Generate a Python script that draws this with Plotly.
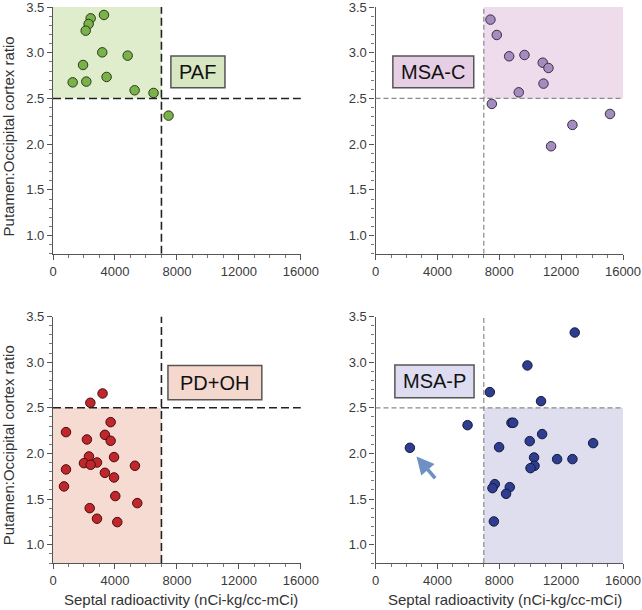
import plotly.graph_objects as go

# ---------------- data ----------------
X_RANGE = [0, 16000]
Y_RANGE = [0.8, 3.5]
X_CUT = 7000
Y_CUT = 2.5
x_tickvals = [0, 4000, 8000, 12000, 16000]
x_ticktext = ["0", "4000", "8000", "12000", "16000"]
y_tickvals = [1.0, 1.5, 2.0, 2.5, 3.0, 3.5]
y_ticktext = ["1.0", "1.5", "2.0", "2.5", "3.0", "3.5"]

paf_x = [2430, 3290, 2300, 2110, 3180, 4820, 1940, 3460, 1270, 2150, 5270, 6490, 7460]
paf_y = [3.376, 3.413, 3.314, 3.241, 3.004, 2.968, 2.866, 2.735, 2.676, 2.684, 2.589, 2.560, 2.312]

msac_x = [7430, 7840, 8640, 9630, 10810, 11180, 10860, 9260, 7520, 15160, 12730, 11350]
msac_y = [3.362, 3.194, 2.961, 2.975, 2.891, 2.833, 2.662, 2.567, 2.440, 2.330, 2.210, 1.977]

pdoh_x = [3200, 2410, 3720, 840, 3350, 2190, 3720, 2320, 3940, 2000, 2840, 2430, 5290,
          840, 3350, 3940, 710, 4020, 5440, 2370, 2840, 4150]
pdoh_y = [2.657, 2.555, 2.343, 2.234, 2.204, 2.153, 2.139, 1.967, 1.960, 1.894, 1.901, 1.876,
          1.865, 1.825, 1.788, 1.737, 1.639, 1.533, 1.456, 1.401, 1.285, 1.248]

msap_x = [12880, 9820, 7390, 10700, 5950, 8790, 8900, 10770, 14070, 7990, 9970, 2220,
          10250, 11740, 12730, 10280, 10020, 7710, 7560, 8680, 8440, 7650]
msap_y = [3.325, 2.964, 2.672, 2.573, 2.310, 2.336, 2.336, 2.212, 2.113, 2.069, 2.135, 2.062,
          1.956, 1.938, 1.938, 1.865, 1.839, 1.664, 1.620, 1.631, 1.558, 1.255]

labels = ["PAF", "MSA-C", "PD+OH", "MSA-P"]
# label box extents (data units)
box_x0 = [7610, 1120, 7420, 1250]
box_x1 = [11100, 6350, 13480, 6370]
box_y0 = [2.616, 2.616, 2.589, 2.61]
box_y1 = [2.965, 2.965, 2.964, 2.97]

# highlighted region per panel
region_x = [[0, X_CUT], [X_CUT, 16000], [0, X_CUT], [X_CUT, 16000]]
region_y = [[Y_CUT, 3.5], [Y_CUT, 3.5], [0.8, Y_CUT], [0.8, Y_CUT]]

# arrow in MSA-P panel (tail -> head)
arrow_tail = (3940, 1.712)
arrow_head = (2650, 1.967)

x_title = "Septal radioactivity (nCi-kg/cc-mCi)"
y_title = "Putamen:Occipital cortex ratio"

# ---------------- styles ----------------
marker_fill = ["#7ab24a", "#a38cbe", "#c0272d", "#2f3d8f"]
marker_edge = ["#2b3a1a", "#3a2e45", "#4a0c0c", "#141a40"]
region_fill = ["#dfedcd", "#eedcec", "#f5dbd1", "#dfdeee"]
box_fill = ["#d6e7c1", "#e6cfe4", "#f4d8cd", "#dddcf0"]
dash_color = ["#222222", "#8a8a8a", "#222222", "#8a8a8a"]
dash_style = ["8px,4px", "5px,3px", "8px,4px", "5px,3px"]
dash_width = [1.6, 1.2, 1.6, 1.2]

W, H = 642, 610
ML, MR, MT, MB = 53, 18.7, 7, 46.7
PW, PH = W - ML - MR, H - MT - MB


def px_x(p):
    return (p - ML) / PW


def px_y(q):
    return (H - MB - q) / PH


xdom = [[px_x(53), px_x(301)], [px_x(375.7), px_x(623.3)]]
ydom_top = [px_y(254), px_y(7)]
ydom_bot = [px_y(563.3), px_y(316.7)]
doms = [(xdom[0], ydom_top), (xdom[1], ydom_top), (xdom[0], ydom_bot), (xdom[1], ydom_bot)]

datasets = [(paf_x, paf_y), (msac_x, msac_y), (pdoh_x, pdoh_y), (msap_x, msap_y)]

fig = go.Figure()
layout = dict(
    width=W, height=H,
    margin=dict(l=ML, r=MR, t=MT, b=MB, autoexpand=False),
    paper_bgcolor="white", plot_bgcolor="rgba(0,0,0,0)",
    showlegend=False,
    font=dict(family="Liberation Sans, Arial, sans-serif", color="#333333", size=13),
)
shapes = []
annotations = []

for i, (xs, ys) in enumerate(datasets):
    n = "" if i == 0 else str(i + 1)
    xa, ya = "x" + n, "y" + n
    fig.add_trace(go.Scatter(
        x=xs, y=ys, mode="markers", xaxis=xa, yaxis=ya,
        marker=dict(size=9.5, color=marker_fill[i], line=dict(color=marker_edge[i], width=1)),
        hoverinfo="x+y",
    ))
    layout["xaxis" + n] = dict(
        domain=doms[i][0], anchor=ya, range=X_RANGE, tickvals=x_tickvals, ticktext=x_ticktext,
        showgrid=False, zeroline=False, showline=True, linecolor="#555555", linewidth=1.2,
        ticks="outside", ticklen=5, tickcolor="#555555", tickfont=dict(size=13, color="#3a3a3a"),
        minor=dict(dtick=1000, ticks="outside", ticklen=3, tickcolor="#777777", showgrid=False),
        fixedrange=True, automargin=False, ticklabeloverflow="allow",
    )
    layout["yaxis" + n] = dict(
        domain=doms[i][1], anchor=xa, range=Y_RANGE, tickvals=y_tickvals, ticktext=y_ticktext,
        showgrid=False, zeroline=False, showline=True, linecolor="#555555", linewidth=1.2,
        ticks="outside", ticklen=5, tickcolor="#555555", tickfont=dict(size=13, color="#3a3a3a"),
        minor=dict(dtick=0.1, tick0=0.8, ticks="outside", ticklen=3, tickcolor="#777777", showgrid=False),
        fixedrange=True, automargin=False, ticklabeloverflow="allow",
    )
    # shaded region
    shapes.append(dict(type="rect", xref=xa, yref=ya, layer="below",
                       x0=region_x[i][0], x1=region_x[i][1], y0=region_y[i][0], y1=region_y[i][1],
                       fillcolor=region_fill[i], line=dict(width=0)))
    # threshold lines
    shapes.append(dict(type="line", xref=xa, yref=ya, x0=X_CUT, x1=X_CUT, y0=Y_RANGE[0], y1=Y_RANGE[1],
                       line=dict(color=dash_color[i], width=dash_width[i], dash=dash_style[i])))
    shapes.append(dict(type="line", xref=xa, yref=ya, x0=X_RANGE[0], x1=X_RANGE[1], y0=Y_CUT, y1=Y_CUT,
                       line=dict(color=dash_color[i], width=dash_width[i], dash=dash_style[i])))
    # label box
    shapes.append(dict(type="rect", xref=xa, yref=ya, x0=box_x0[i], x1=box_x1[i], y0=box_y0[i], y1=box_y1[i],
                       fillcolor=box_fill[i], line=dict(color="#555555", width=1.5)))
    annotations.append(dict(xref=xa, yref=ya, x=(box_x0[i] + box_x1[i]) / 2,
                            y=(box_y0[i] + box_y1[i]) / 2, text=labels[i], showarrow=False,
                            font=dict(size=20, color="#111111",
                                      family="Liberation Sans, Arial, sans-serif")))

# arrow pointing to outlier in MSA-P
annotations.append(dict(xref="x4", yref="y4", axref="x4", ayref="y4",
                        x=arrow_head[0], y=arrow_head[1], ax=arrow_tail[0], ay=arrow_tail[1],
                        text="", showarrow=True, arrowhead=2, arrowsize=1, arrowwidth=3.5,
                        arrowcolor="#6e90c4", standoff=0))

# axis titles
for yc in (137, 446):
    annotations.append(dict(xref="paper", yref="paper", x=px_x(8.5), y=px_y(yc), text=y_title,
                            textangle=-90, showarrow=False, xanchor="center", yanchor="middle",
                            font=dict(size=15, color="#333333")))
for xc in (181, 505):
    annotations.append(dict(xref="paper", yref="paper", x=px_x(xc), y=px_y(600), text=x_title,
                            showarrow=False, xanchor="center", yanchor="middle",
                            font=dict(size=15, color="#333333")))

layout["shapes"] = shapes
layout["annotations"] = annotations
fig.update_layout(**layout)
fig.write_html("out.html", config={"displayModeBar": False},
               post_script="document.body.style.margin='0';")
